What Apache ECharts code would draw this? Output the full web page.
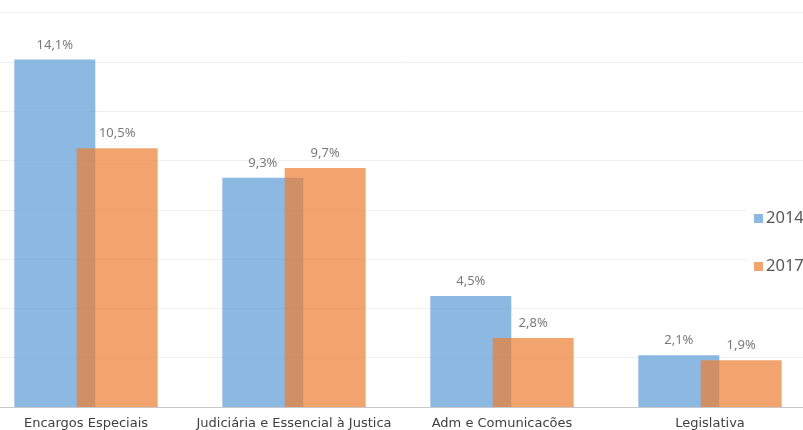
<!DOCTYPE html>
<html>
<head>
<meta charset="utf-8">
<script src="https://cdn.jsdelivr.net/npm/echarts@6/dist/echarts.min.js"></script>
<style>
html, body { margin: 0; padding: 0; background: #fff; }
#chart { width: 803px; height: 430px; }
</style>
</head>
<body>
<div id="chart"></div>
<script>
// categorias e valores (%)
var categories = ["Encargos Especiais", "Judiciária e Essencial à Justica", "Adm e Comunicacões", "Legislativa"];
var values2014 = [14.1, 9.3, 4.5, 2.1];
var values2017 = [10.5, 9.7, 2.8, 1.9];
var seriesNames = ["2014", "2017"];

var fontFamily = "Noto Sans";

// rótulo com vírgula decimal
function pctLabel(p) {
	return p.value.toFixed(1).replace(".", ",") + "%";
}

var myChart = echarts.init(document.getElementById("chart"));
var option = {
	animation: false,
	backgroundColor: "#fff",
	textStyle: { fontFamily: fontFamily },
	grid: { left: -18, width: 832, top: 12.6, bottom: 23, outerBoundsMode: "none", containLabel: false },
	legend: {
		orient: "vertical",
		left: 746,
		top: 206,
		data: seriesNames,
		icon: "rect",
		itemWidth: 9,
		itemHeight: 9,
		itemGap: 31,
		backgroundColor: "#fff",
		padding: [4, 0, 4, 8],
		textStyle: { fontFamily: fontFamily, fontSize: 16.5, color: "#595959", padding: [0, 0, 0, -2] }
	},
	xAxis: {
		type: "category",
		data: categories,
		axisLine: { lineStyle: { color: "#c8c8c8", width: 1 } },
		axisTick: { show: false },
		axisLabel: { interval: 0, fontFamily: "DejaVu Sans", fontSize: 13, color: "#404040", margin: 10 }
	},
	yAxis: {
		type: "value",
		min: 0,
		max: 16,
		interval: 2,
		axisLine: { show: false },
		axisTick: { show: false },
		axisLabel: { show: false },
		splitLine: { lineStyle: { color: "#f0f0f0", width: 1 } }
	},
	series: [
		{
			name: seriesNames[0],
			type: "bar",
			data: values2014,
			barWidth: 81,
			barGap: "-23%",
			itemStyle: { color: "#5B9BD5", opacity: 0.7 },
			label: { show: true, position: "top", distance: 8, formatter: pctLabel, fontFamily: fontFamily, fontSize: 13, color: "#404040" }
		},
		{
			name: seriesNames[1],
			type: "bar",
			data: values2017,
			barWidth: 81,
			barGap: "-23%",
			itemStyle: { color: "#ED7D31", opacity: 0.7 },
			label: { show: true, position: "top", distance: 8, formatter: pctLabel, fontFamily: fontFamily, fontSize: 13, color: "#404040" }
		}
	]
};
myChart.setOption(option);
</script>
</body>
</html>
